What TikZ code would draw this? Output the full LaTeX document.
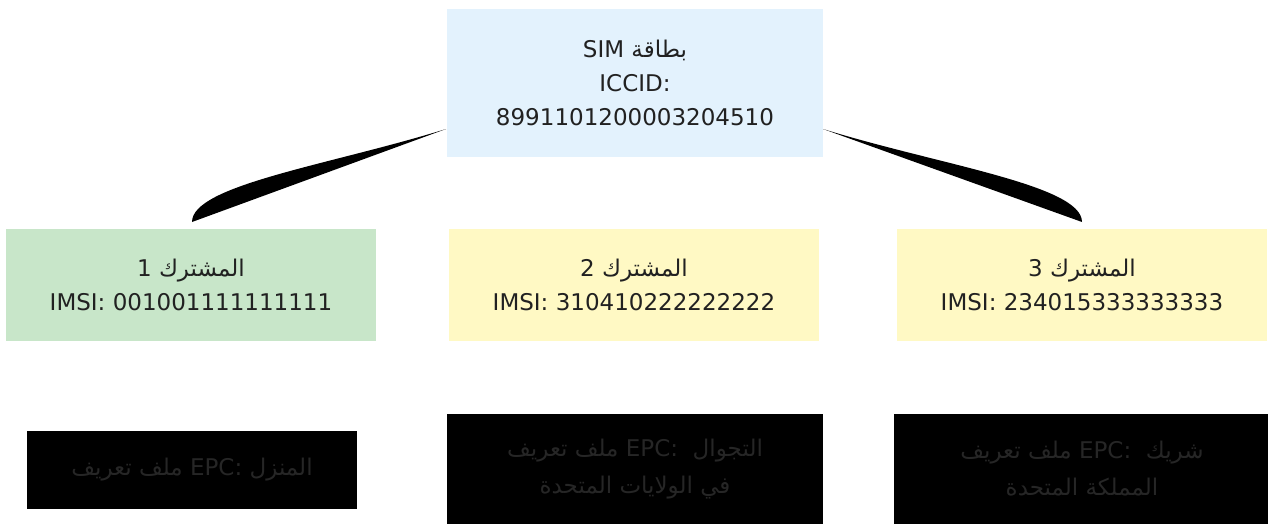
\documentclass[tikz,border=0pt]{standalone}
\usepackage{fontspec}
\usetikzlibrary{calc}
\setmainfont{DejaVu Sans}
\newfontfamily\arabicfont[Script=Arabic]{DejaVu Sans}
\TeXXeTstate=1
\newcommand{\artxt}[1]{{\arabicfont\beginR #1\endR}}
\definecolor{simblue}{HTML}{E3F2FD}
\definecolor{subgreen}{HTML}{C8E6C9}
\definecolor{subyellow}{HTML}{FFF9C4}
\definecolor{txtdark}{HTML}{212121}
\definecolor{txtdim}{HTML}{262626}
\begin{document}
\begin{tikzpicture}[x=1pt,y=-1pt,
  box/.style={inner sep=0pt, outer sep=0pt, align=center, text=txtdark,
    font=\fontsize{23}{34}\selectfont},
  simbox/.style={box, fill=simblue, minimum width=376pt, minimum height=148pt},
  subbox/.style={box, minimum width=370pt, minimum height=112pt},
  epcbox/.style={box, fill=black, text=txtdim, minimum width=376pt, minimum height=110pt,
    font=\fontsize{23}{37}\selectfont},
  wedge/.style={fill=black}
]
\useasboundingbox[fill=white] (0,0) rectangle (1268,525);

\node[simbox] (sim) at (635,83) {SIM \artxt{بطاقة}\\ICCID:\\8991101200003204510};

\node[subbox, fill=subgreen] (s1) at (191,285) {1 \artxt{المشترك}\\IMSI: 001001111111111};
\node[subbox, fill=subyellow] (s2) at (634,285) {2 \artxt{المشترك}\\IMSI: 310410222222222};
\node[subbox, fill=subyellow] (s3) at (1082,285) {3 \artxt{المشترك}\\IMSI: 234015333333333};

\node[epcbox, minimum width=330pt, minimum height=78pt] (e1) at (192,470)
  {\artxt{ملف تعريف} EPC: \artxt{المنزل}};
\node[epcbox] (e2) at (635,469)
  {\artxt{ملف تعريف} EPC:\ \ \artxt{التجوال}\\\artxt{في الولايات المتحدة}};
\node[epcbox] (e3) at (1082,469)
  {\artxt{ملف تعريف} EPC:\ \ \artxt{شريك}\\\artxt{المملكة المتحدة}};

\coordinate (la) at ($(sim.west)+(-1,46)$);
\coordinate (lb) at ($(s1.north)+(1,-7)$);
\coordinate (ra) at ($(sim.east)+(0,46)$);
\coordinate (rb) at ($(s3.north)+(0,-7)$);

\fill[wedge] (la) .. controls ($(la)+(-116,36)$) and ($(lb)+(0,-37)$) .. (lb) -- cycle;
\fill[wedge] (ra) .. controls ($(ra)+(116,36)$) and ($(rb)+(0,-37)$) .. (rb) -- cycle;
\end{tikzpicture}
\end{document}
